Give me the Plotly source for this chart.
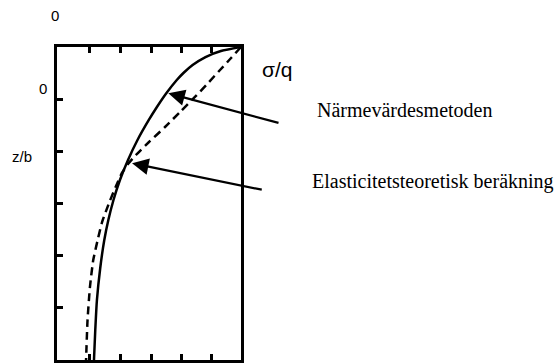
import plotly.graph_objects as go

# Data (sigma/q vs z/b, z/b increasing downward)
approx_z = [0.0, 0.077, 0.192, 0.345, 0.498, 0.633, 0.882, 1.150, 1.399, 1.783, 2.166,
            2.550, 2.933, 3.316, 3.700, 4.236, 4.850, 5.425, 6.0]
approx_s = [1.0, 0.891, 0.807, 0.737, 0.687, 0.651, 0.595, 0.543, 0.499, 0.4375, 0.386,
            0.342, 0.307, 0.279, 0.257, 0.235, 0.217, 0.208, 0.201]

elastic_z = [0.0, 0.211, 0.441, 0.671, 0.939, 1.227, 1.534, 1.821, 2.070, 2.243,
             2.415, 2.664, 2.990, 3.355, 3.700, 4.083, 4.601, 5.233, 6.0]
elastic_s = [1.0, 0.946, 0.886, 0.826, 0.755, 0.674, 0.587, 0.500, 0.429, 0.386,
             0.353, 0.321, 0.283, 0.245, 0.221, 0.197, 0.179, 0.166, 0.158]

x_ticks = [0.174, 0.345, 0.511, 0.674, 0.837]
y_ticks = [1, 2, 3, 4, 5]

label_approx = "Närmevärdesmetoden"
label_elastic = "Elasticitetsteoretisk beräkning"

fig = go.Figure()
fig.add_trace(go.Scatter(x=approx_s, y=approx_z, mode="lines",
                         line=dict(color="black", width=2.5, shape="spline", smoothing=0.6),
                         showlegend=False, hoverinfo="skip"))
fig.add_trace(go.Scatter(x=elastic_s, y=elastic_z, mode="lines",
                         line=dict(color="black", width=2.5, dash="8px,5px", shape="spline", smoothing=0.5),
                         showlegend=False, hoverinfo="skip"))

sans = "Liberation Sans, Arial, sans-serif"
serif = "Liberation Serif, Times New Roman, serif"

annotations = [
    dict(x=-0.011, y=1.102, text="0", font=dict(family=sans, size=15, color="black")),
    dict(x=-0.076, y=0.869, text="0", font=dict(family=sans, size=15, color="black")),
    dict(x=-0.19, y=0.649, text="z/b", font=dict(family=sans, size=15, color="black")),
    dict(x=1.196, y=0.927, text="σ/q", font=dict(family=sans, size=21, color="black")),
    dict(x=1.402, y=0.798, text=label_approx, xanchor="left",
         font=dict(family=serif, size=20, color="black")),
    dict(x=1.375, y=0.571, text=label_elastic, xanchor="left",
         font=dict(family=serif, size=20, color="black")),
]
for a in annotations:
    a["showarrow"] = False
    a["xref"] = "paper"
    a["yref"] = "paper"
    a.setdefault("xanchor", "center")
    a["yanchor"] = "middle"

arrows = [
    dict(x=0.605, y=0.888, ax=1.212, ay=1.463),
    dict(x=0.408, y=2.229, ax=1.121, ay=2.741),
]
for a in arrows:
    a.update(xref="x", yref="y", axref="x", ayref="y", text="", showarrow=True,
             arrowhead=2, arrowsize=1.5, arrowwidth=2.2, arrowcolor="black")
    annotations.append(a)

fig.update_layout(
    width=557, height=363,
    margin=dict(l=57, r=316, t=47, b=3),
    paper_bgcolor="white", plot_bgcolor="white",
    annotations=annotations,
    xaxis=dict(range=[0, 1], showgrid=False, zeroline=False, showticklabels=False,
               tickvals=x_ticks, ticks="inside", ticklen=6, tickwidth=2.5, tickcolor="black",
               showline=True, linecolor="black", linewidth=2.5, mirror="ticks"),
    yaxis=dict(range=[6, 0], showgrid=False, zeroline=False, showticklabels=False,
               tickvals=y_ticks, ticks="inside", ticklen=6, tickwidth=2.5, tickcolor="black",
               showline=True, linecolor="black", linewidth=2.5, mirror=True),
)

fig.write_html("out.html")
